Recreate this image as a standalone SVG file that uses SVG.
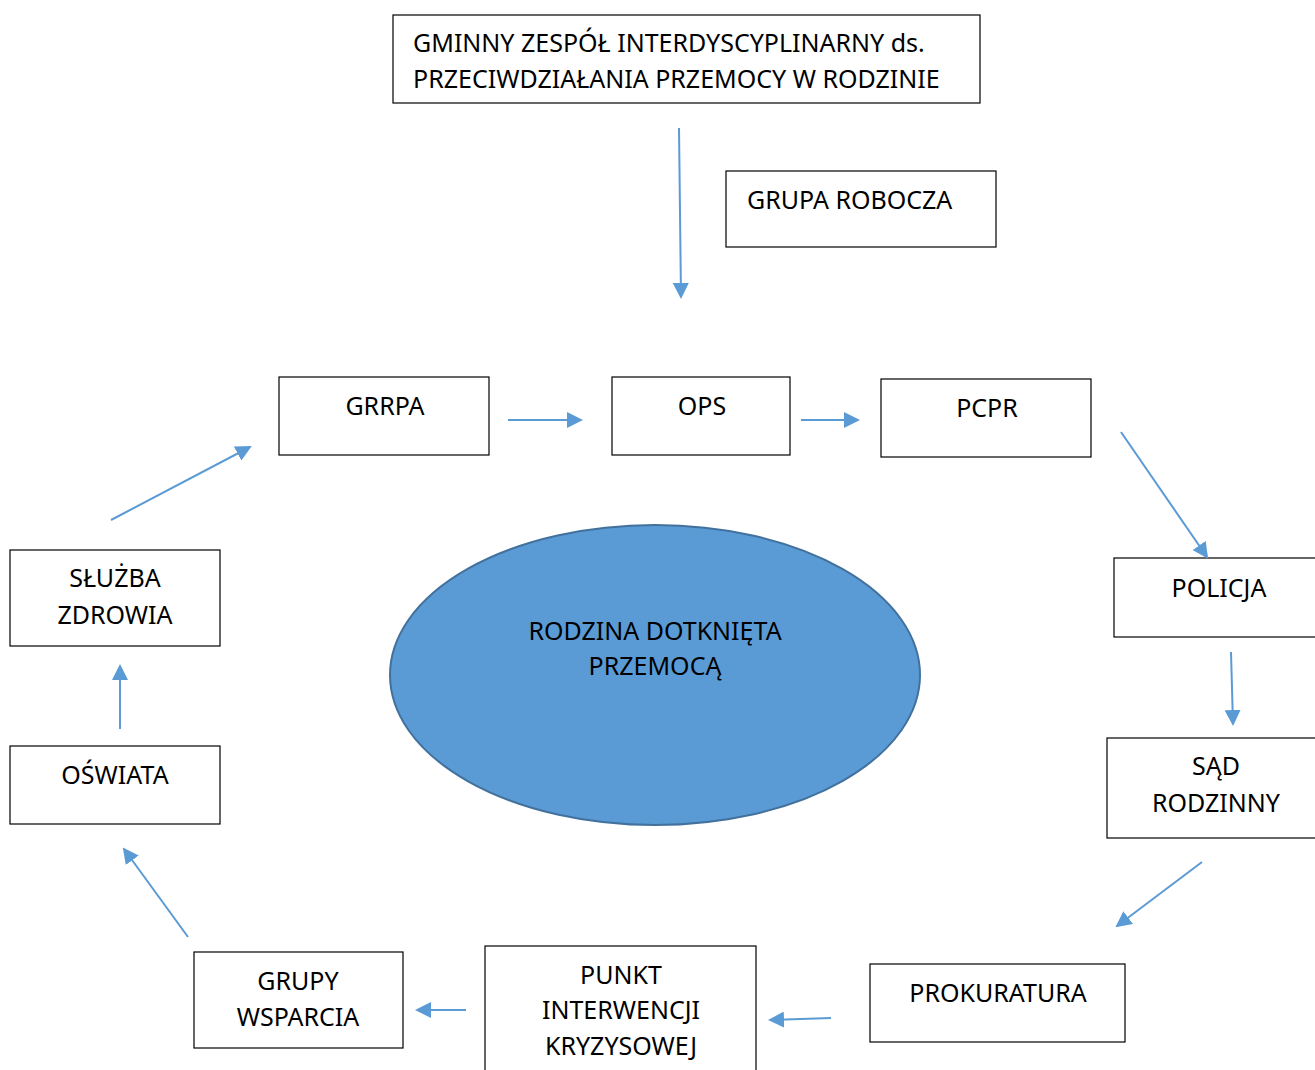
<svg xmlns="http://www.w3.org/2000/svg" width="1315" height="1070" viewBox="0 0 1315 1070">
<defs>
<marker id="ah" markerWidth="8" markerHeight="8" refX="7" refY="4" orient="auto" markerUnits="strokeWidth">
<path d="M0,0 L8,4 L0,8 z" fill="#5B9BD5"/>
</marker>
<style>
.box{fill:#fff;stroke:#000;stroke-width:1.2}
.t{font-family:"Noto Sans","Open Sans","Liberation Sans",sans-serif;font-size:25px;fill:#000}
.c{text-anchor:middle}
.con line{stroke:#5B9BD5;stroke-width:2;marker-end:url(#ah)}
</style>
</defs>
<rect width="1315" height="1070" fill="#fff"/>
<g id="gzi">
<rect class="box" x="393" y="15" width="587" height="88"/>
<text class="t" x="413" y="52">GMINNY ZESPÓŁ INTERDYSCYPLINARNY ds.</text>
<text class="t" x="413" y="88">PRZECIWDZIAŁANIA PRZEMOCY W RODZINIE</text>
</g>
<g id="grupa-robocza">
<rect class="box" x="726" y="171" width="270" height="76"/>
<text class="t" x="747" y="209">GRUPA ROBOCZA</text>
</g>
<g id="grrpa">
<rect class="box" x="279" y="377" width="210" height="78"/>
<text class="t c" x="385" y="415">GRRPA</text>
</g>
<g id="ops">
<rect class="box" x="612" y="377" width="178" height="78"/>
<text class="t c" x="702" y="415">OPS</text>
</g>
<g id="pcpr">
<rect class="box" x="881" y="379" width="210" height="78"/>
<text class="t c" x="987" y="417">PCPR</text>
</g>
<g id="policja">
<rect class="box" x="1114" y="558" width="210" height="79"/>
<text class="t c" x="1219" y="597">POLICJA</text>
</g>
<g id="sad">
<rect class="box" x="1107" y="738" width="220" height="100"/>
<text class="t c" x="1216" y="775">SĄD</text>
<text class="t c" x="1216" y="812">RODZINNY</text>
</g>
<g id="prokuratura">
<rect class="box" x="870" y="964" width="255" height="78"/>
<text class="t c" x="998" y="1002">PROKURATURA</text>
</g>
<g id="pik">
<rect class="box" x="485" y="946" width="271" height="130"/>
<text class="t c" x="621" y="984">PUNKT</text>
<text class="t c" x="621" y="1019">INTERWENCJI</text>
<text class="t c" x="621" y="1055">KRYZYSOWEJ</text>
</g>
<g id="grupy-wsparcia">
<rect class="box" x="194" y="952" width="209" height="96"/>
<text class="t c" x="298" y="990">GRUPY</text>
<text class="t c" x="298" y="1026">WSPARCIA</text>
</g>
<g id="oswiata">
<rect class="box" x="10" y="746" width="210" height="78"/>
<text class="t c" x="115" y="784">OŚWIATA</text>
</g>
<g id="sluzba-zdrowia">
<rect class="box" x="10" y="550" width="210" height="96"/>
<text class="t c" x="115" y="587">SŁUŻBA</text>
<text class="t c" x="115" y="624">ZDROWIA</text>
</g>
<g id="rodzina">
<ellipse cx="655" cy="675" rx="265" ry="150" fill="#5B9BD5" stroke="#41719C" stroke-width="2"/>
<text class="t c" x="655" y="640">RODZINA DOTKNIĘTA</text>
<text class="t c" x="655" y="675">PRZEMOCĄ</text>
</g>
<g class="con" id="connectors">
<line x1="679" y1="128" x2="681" y2="297"/>
<line x1="508" y1="420" x2="581" y2="420"/>
<line x1="801" y1="420" x2="858" y2="420"/>
<line x1="1121" y1="432" x2="1207" y2="557"/>
<line x1="1231" y1="652" x2="1233" y2="724"/>
<line x1="1202" y1="862" x2="1117" y2="926"/>
<line x1="831" y1="1018" x2="770" y2="1020"/>
<line x1="466" y1="1010" x2="417" y2="1010"/>
<line x1="188" y1="937" x2="124" y2="849"/>
<line x1="120" y1="729" x2="120" y2="666"/>
<line x1="111" y1="520" x2="250" y2="447"/>
</g>
</svg>
